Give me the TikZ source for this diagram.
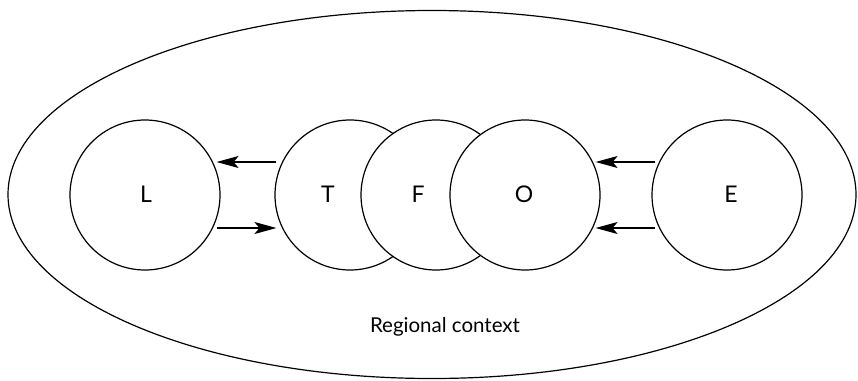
\documentclass[tikz,border=0pt]{standalone}
\usepackage{fontspec}
\setmainfont{Lato}
\usetikzlibrary{arrows.meta,shapes.geometric}
\begin{document}
\begin{tikzpicture}[x=1pt,y=-1pt,
  ring/.style={circle,draw,line width=1.2pt,fill=white,minimum size=150pt,inner sep=0pt},
  tag/.style={font=\fontsize{23}{26}\selectfont,inner sep=0pt},
  link/.style={line width=1.2pt,-{Stealth[length=22pt,width=12pt,inset=5pt]}}]
\useasboundingbox (0,0) rectangle (858,380);
\node[ellipse,draw,line width=1.2pt,minimum width=848pt,minimum height=368pt,inner sep=0pt] (ctx) at (432,194.5) {};
\node[font=\fontsize{20.5}{24}\selectfont] (lbl) at (445,327) {Regional context};
\node[ring] (L) at (145,195) {};
\node[ring] (T) at (350,195) {};
\node[ring] (F) at (436,195) {};
\node[ring] (O) at (525,195) {};
\node[ring] (E) at (727,195) {};
\node[tag] (tL) at (146,194) {L};
\node[tag] (tT) at (328,194) {T};
\node[tag] (tF) at (418,194) {F};
\node[tag] (tO) at (524,194) {O};
\node[tag] (tE) at (731,194) {E};
\draw[link] ([yshift=33pt,xshift=2pt]T.west) -- ([yshift=33pt,xshift=-4pt]T.west -| L.east);
\draw[link] ([yshift=-33pt,xshift=-4pt]T.west -| L.east) -- ([yshift=-33pt,xshift=2pt]T.west);
\draw[link] ([yshift=33pt,xshift=4pt]E.west) -- ([yshift=33pt,xshift=-5pt]E.west -| O.east);
\draw[link] ([yshift=-33pt,xshift=4pt]E.west) -- ([yshift=-33pt,xshift=-5pt]E.west -| O.east);
\end{tikzpicture}
\end{document}
